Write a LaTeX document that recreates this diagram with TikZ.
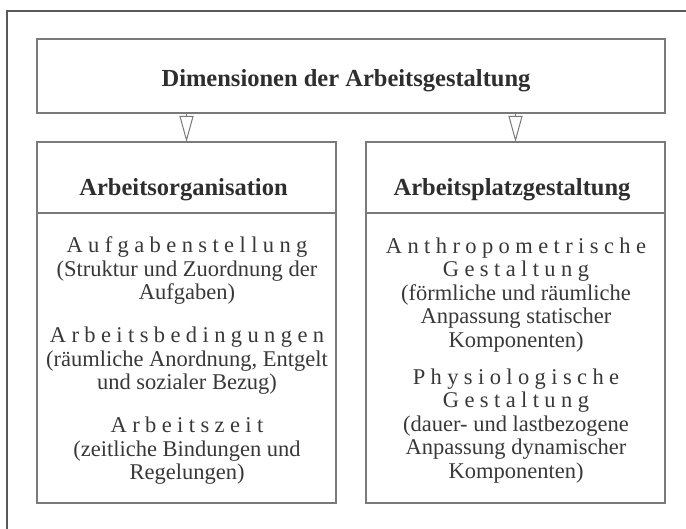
\documentclass[tikz,border=0pt]{standalone}
\usepackage{fontspec}
\setmainfont{Liberation Serif}
\newfontfamily\sperrfont[LetterSpace=24]{Liberation Serif}
\newcommand\sperr[1]{{\sperrfont #1}}
\usetikzlibrary{arrows.meta}

\begin{document}
\begin{tikzpicture}[x=1pt, y=-1pt,
    %Option for open arrows
    >={Triangle[open, length=26pt, width=14pt]}, %
    inner sep=0pt, outer sep=0pt,%
    box/.style={draw=linegray, line width=1.1pt},
    heading/.style={font=\fontsize{24.5}{28}\selectfont\bfseries, text=headgray},
    item/.style={align=center, font=\fontsize{22.5}{23.5}\selectfont, text=textgray},
    flow/.style={draw=linegray, line width=1pt, ->},
    frame/.style={draw=framegray, line width=2.5pt},
]
    % Colors
    \colorlet{linegray}{black!52}
    \colorlet{framegray}{black!65}
    \colorlet{headgray}{black!82}
    \colorlet{textgray}{black!78}

    \useasboundingbox (0,0) rectangle (686,529);

    % Frame
    \draw[frame] (7,529) -- (7,11) -- (686,11);

    % Top box
    \node[box, minimum width=628pt, minimum height=74pt] (dim) at (351,76) {};
    \node[heading] (dimtitle) at (346,81) {Dimensionen der Arbeitsgestaltung};

    % Lower boxes
    \node[box, minimum width=299pt, minimum height=361pt] (orga) at (186.5,322.5) {};
    \node[box, minimum width=299pt, minimum height=361pt] (platz) at (515.5,322.5) {};
    \draw[box] (orga.west |- 0,213) -- (orga.east |- 0,213);
    \draw[box] (platz.west |- 0,213) -- (platz.east |- 0,213);

    \node[heading] (orgatitle)  at (183.5,190) {Arbeitsorganisation};
    \node[heading] (platztitle) at (512,190) {Arbeitsplatzgestaltung};

    % Arrows from top box
    \draw[flow] (orga.north |- dim.south) -- (orga.north);
    \draw[flow] (platz.north |- dim.south) -- (platz.north);

    %Contents Arbeitsorganisation
    \node[item] (aufgaben) at (187,271) {\sperr{Aufgabenstellung}\\(Struktur und Zuordnung der\\Aufgaben)};
    \node[item] (bedingungen) at (187,361) {\sperr{Arbeitsbedingungen}\\(räumliche Anordnung, Entgelt\\und sozialer Bezug)};
    \node[item] (zeit) at (187,451) {\sperr{Arbeitszeit}\\(zeitliche Bindungen und\\Regelungen)};

    %Contents Arbeitsplatzgestaltung
    \node[item] (anthro) at (516,295) {\sperr{Anthropometrische}\\\sperr{Gestaltung}\\(förmliche und räumliche\\Anpassung statischer\\Komponenten)};
    \node[item] (physio) at (516,426) {\sperr{Physiologische}\\\sperr{Gestaltung}\\(dauer- und lastbezogene\\Anpassung dynamischer\\Komponenten)};

\end{tikzpicture}
\end{document}
